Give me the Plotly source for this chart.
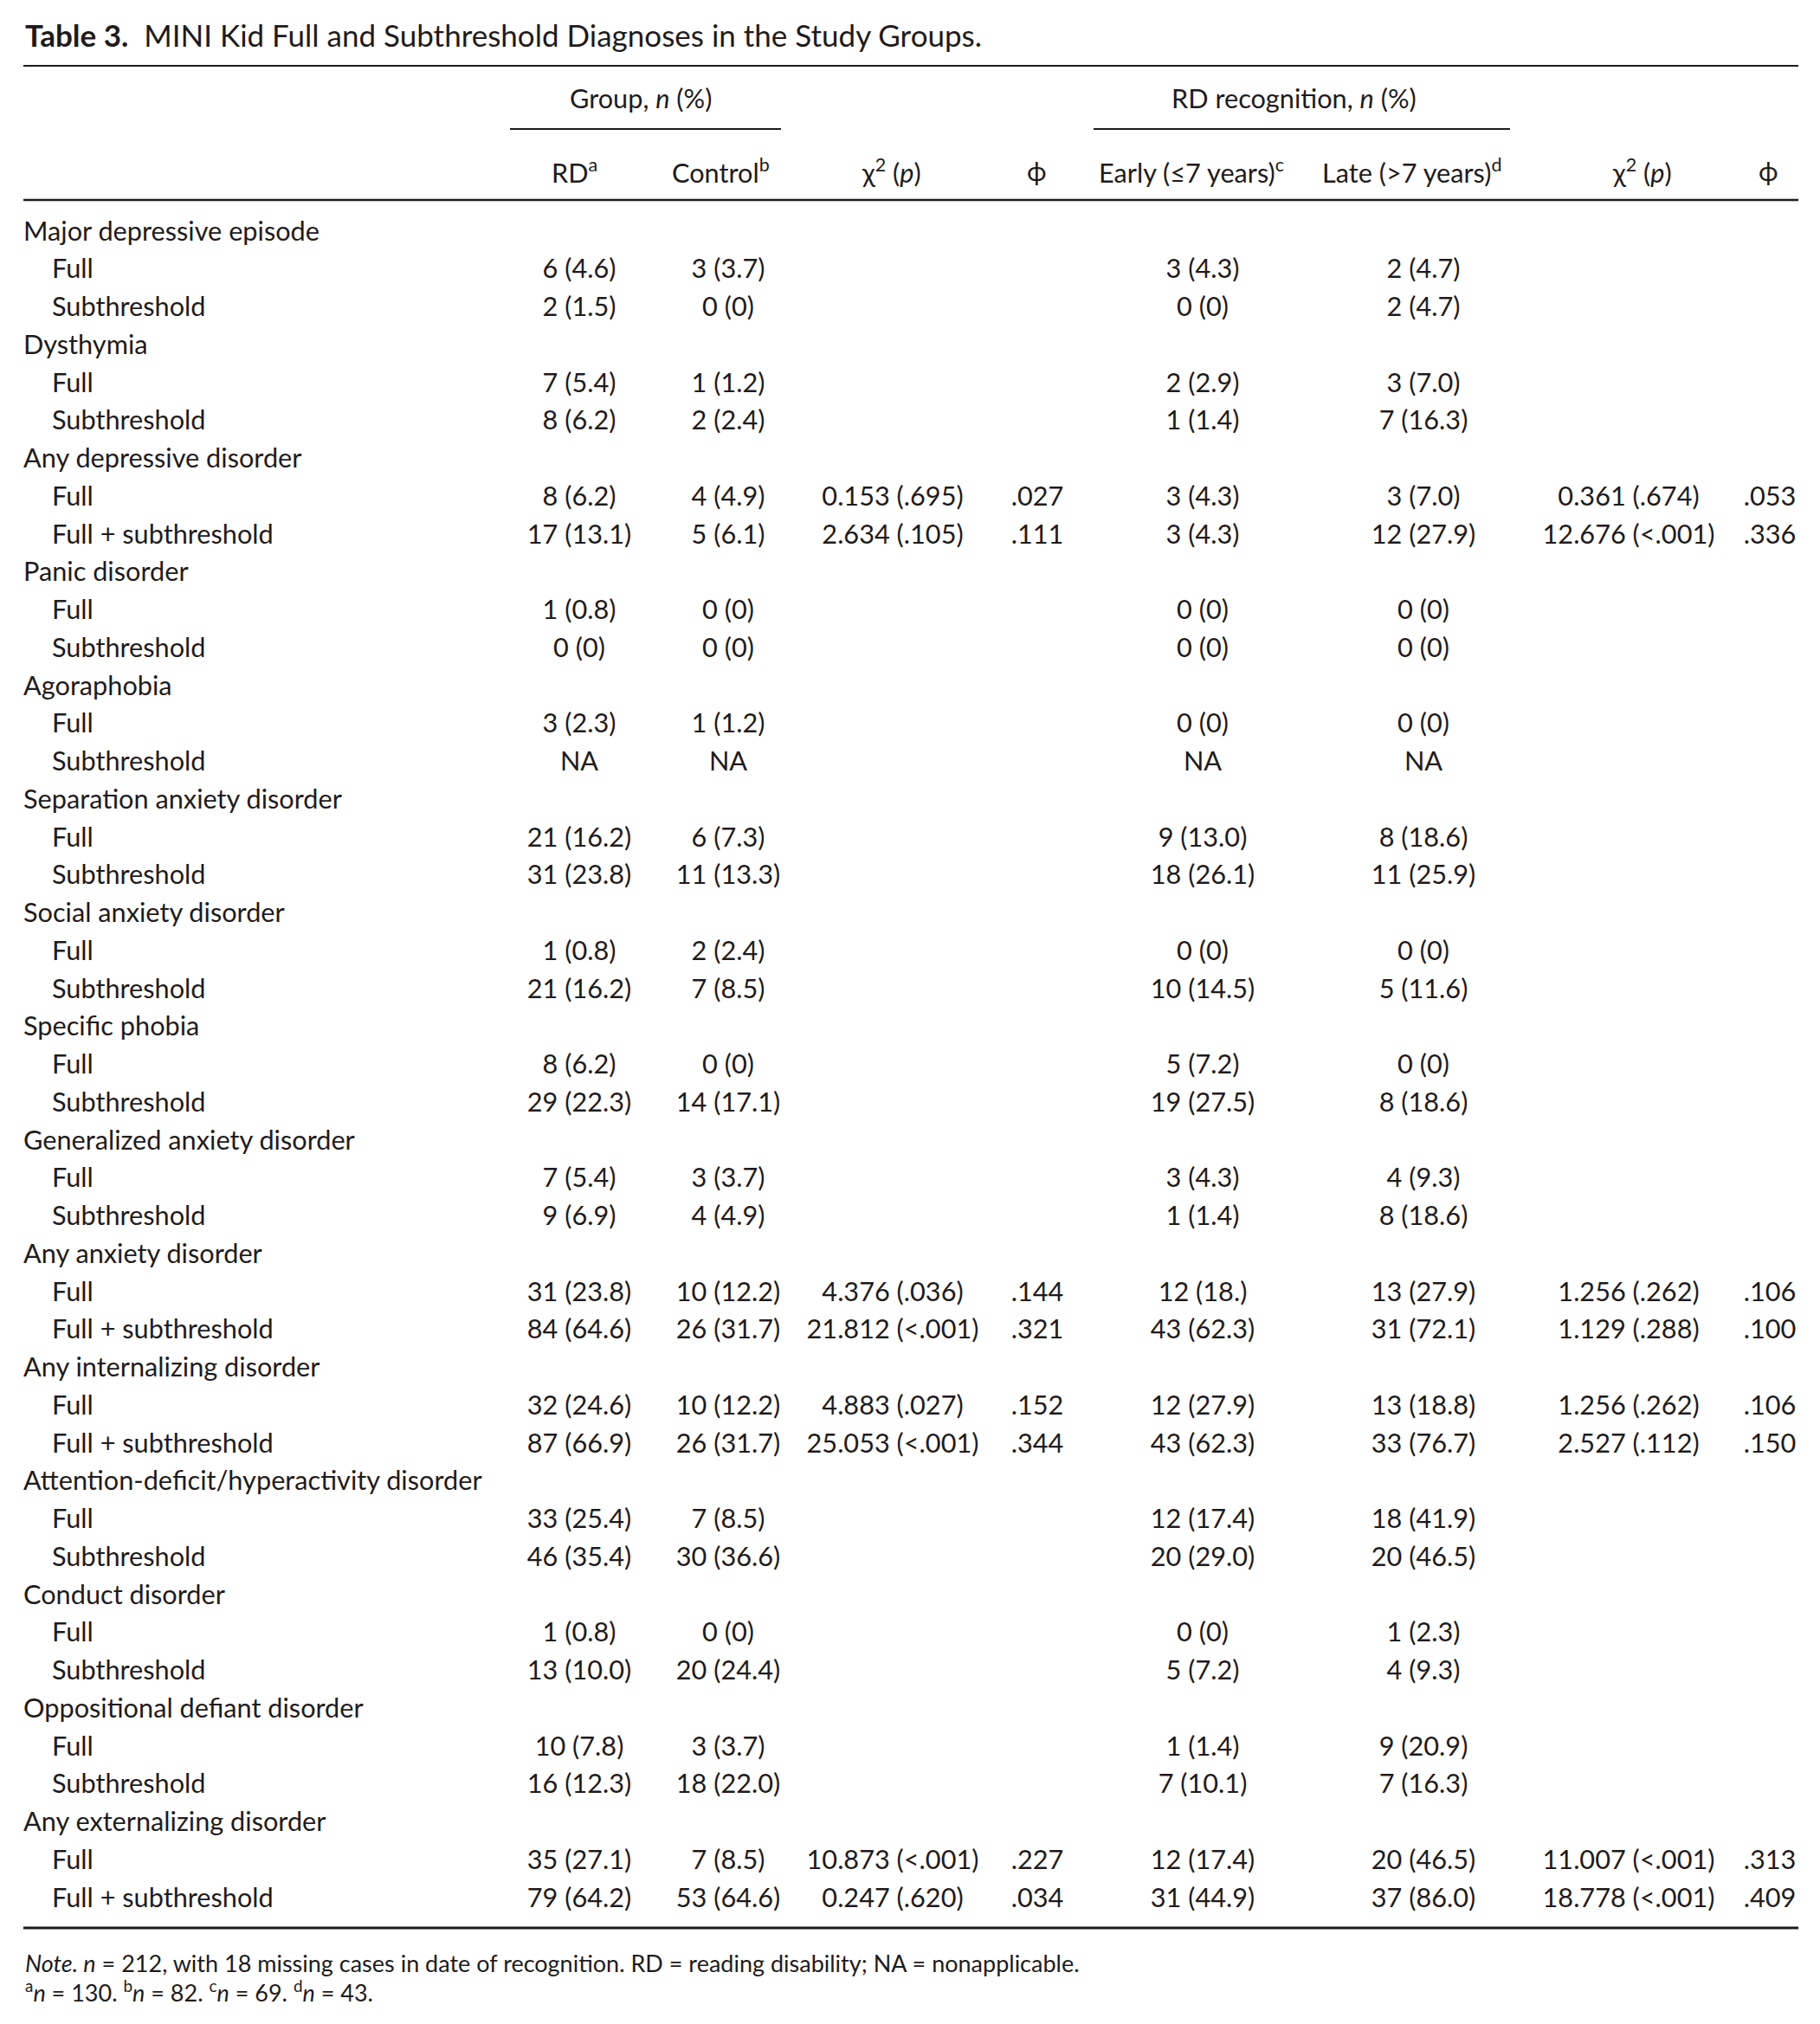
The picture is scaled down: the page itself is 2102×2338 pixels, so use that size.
import plotly.graph_objects as go

# table content
categories = ["Major depressive episode", "Dysthymia", "Any depressive disorder",
              "Panic disorder", "Agoraphobia", "Separation anxiety disorder",
              "Social anxiety disorder", "Specific phobia", "Generalized anxiety disorder",
              "Any anxiety disorder", "Any internalizing disorder",
              "Attention-deficit/hyperactivity disorder", "Conduct disorder",
              "Oppositional defiant disorder", "Any externalizing disorder"]

rd = ["6 (4.6)", "2 (1.5)", "7 (5.4)", "8 (6.2)", "8 (6.2)", "17 (13.1)", "1 (0.8)", "0 (0)",
      "3 (2.3)", "NA", "21 (16.2)", "31 (23.8)", "1 (0.8)", "21 (16.2)", "8 (6.2)", "29 (22.3)",
      "7 (5.4)", "9 (6.9)", "31 (23.8)", "84 (64.6)", "32 (24.6)", "87 (66.9)", "33 (25.4)",
      "46 (35.4)", "1 (0.8)", "13 (10.0)", "10 (7.8)", "16 (12.3)", "35 (27.1)", "79 (64.2)"]
control = ["3 (3.7)", "0 (0)", "1 (1.2)", "2 (2.4)", "4 (4.9)", "5 (6.1)", "0 (0)", "0 (0)",
           "1 (1.2)", "NA", "6 (7.3)", "11 (13.3)", "2 (2.4)", "7 (8.5)", "0 (0)", "14 (17.1)",
           "3 (3.7)", "4 (4.9)", "10 (12.2)", "26 (31.7)", "10 (12.2)", "26 (31.7)", "7 (8.5)",
           "30 (36.6)", "0 (0)", "20 (24.4)", "3 (3.7)", "18 (22.0)", "7 (8.5)", "53 (64.6)"]
early = ["3 (4.3)", "0 (0)", "2 (2.9)", "1 (1.4)", "3 (4.3)", "3 (4.3)", "0 (0)", "0 (0)",
         "0 (0)", "NA", "9 (13.0)", "18 (26.1)", "0 (0)", "10 (14.5)", "5 (7.2)", "19 (27.5)",
         "3 (4.3)", "1 (1.4)", "12 (18.)", "43 (62.3)", "12 (27.9)", "43 (62.3)", "12 (17.4)",
         "20 (29.0)", "0 (0)", "5 (7.2)", "1 (1.4)", "7 (10.1)", "12 (17.4)", "31 (44.9)"]
late = ["2 (4.7)", "2 (4.7)", "3 (7.0)", "7 (16.3)", "3 (7.0)", "12 (27.9)", "0 (0)", "0 (0)",
        "0 (0)", "NA", "8 (18.6)", "11 (25.9)", "0 (0)", "5 (11.6)", "0 (0)", "8 (18.6)",
        "4 (9.3)", "8 (18.6)", "13 (27.9)", "31 (72.1)", "13 (18.8)", "33 (76.7)", "18 (41.9)",
        "20 (46.5)", "1 (2.3)", "4 (9.3)", "9 (20.9)", "7 (16.3)", "20 (46.5)", "37 (86.0)"]

# statistics only exist for the "Any ..." categories (index into categories)
stat_cats = [2, 9, 10, 14]
chi_group = [["0.153 (.695)", "2.634 (.105)"], ["4.376 (.036)", "21.812 (<.001)"],
             ["4.883 (.027)", "25.053 (<.001)"], ["10.873 (<.001)", "0.247 (.620)"]]
phi_group = [[".027", ".111"], [".144", ".321"], [".152", ".344"], [".227", ".034"]]
chi_rec = [["0.361 (.674)", "12.676 (<.001)"], ["1.256 (.262)", "1.129 (.288)"],
           ["1.256 (.262)", "2.527 (.112)"], ["11.007 (<.001)", "18.778 (<.001)"]]
phi_rec = [[".053", ".336"], [".106", ".100"], [".106", ".150"], [".313", ".409"]]

col_headers = ["RD<sup>a</sup>", "Control<sup>b</sup>", "χ<sup>2</sup> (<i>p</i>)", "ϕ",
               "Early (≤7 years)<sup>c</sup>", "Late (>7 years)<sup>d</sup>",
               "χ<sup>2</sup> (<i>p</i>)", "ϕ"]

# layout constants (pixels)
W, H = 2102, 2338
FONT = "Lato"
INK = "#1f1b1c"
FS = 30.7
LEFT, RIGHT = 27, 2077
INDENT = 60
HEAD_X = [663, 832, 1029, 1197, 1376, 1630, 1896, 2042]   # column header centres
COL_X = [669, 841, 1031, 1198, 1389, 1644, 1881, 2044]    # value centres
ROW0, ROW_H = 270, 43.75

# build the row structure
labels, label_x, ys = [], [], []
cols = [([], []) for _ in range(8)]   # (y, text) per column
k = 0
row = 0
for ci, cat in enumerate(categories):
    labels.append(cat)
    label_x.append(LEFT)
    ys.append(ROW0 + ROW_H * row)
    row += 1
    subs = ["Full", "Full + subthreshold"] if cat.startswith("Any") else ["Full", "Subthreshold"]
    for si, sub in enumerate(subs):
        y = ROW0 + ROW_H * row
        labels.append(sub)
        label_x.append(INDENT)
        ys.append(y)
        vals = [rd[k], control[k], "", "", early[k], late[k], "", ""]
        if ci in stat_cats:
            j = stat_cats.index(ci)
            vals[2] = chi_group[j][si]
            vals[3] = phi_group[j][si]
            vals[6] = chi_rec[j][si]
            vals[7] = phi_rec[j][si]
        for (cy, ct), v in zip(cols, vals):
            if v:
                cy.append(y)
                ct.append(v)
        k += 1
        row += 1

fig = go.Figure()
fig.add_trace(go.Scatter(x=label_x, y=ys, text=labels, mode="text",
                         textposition="middle right",
                         textfont=dict(family=FONT, size=FS, color=INK)))
for cx, (cy, ct) in zip(COL_X, cols):
    fig.add_trace(go.Scatter(x=[cx] * len(cy), y=cy, text=ct, mode="text",
                             textposition="middle center",
                             textfont=dict(family=FONT, size=FS, color=INK)))

annotations = [
    dict(x=LEFT, y=40, text="<b>Table 3.</b>  MINI Kid Full and Subthreshold Diagnoses in the Study Groups.",
         xanchor="left", font=dict(size=35)),
    dict(x=740, y=113, text="Group, <i>n</i> (%)"),
    dict(x=1494, y=113, text="RD recognition, <i>n</i> (%)"),
    dict(x=LEFT, y=2267, text="<i>Note. n</i> = 212, with 18 missing cases in date of recognition. "
                              "RD = reading disability; NA = nonapplicable.",
         xanchor="left", font=dict(size=27)),
    dict(x=LEFT, y=2300, text="<sup>a</sup><i>n</i> = 130. <sup>b</sup><i>n</i> = 82. "
                              "<sup>c</sup><i>n</i> = 69. <sup>d</sup><i>n</i> = 43.",
         xanchor="left", font=dict(size=27)),
]
for cx, h in zip(HEAD_X, col_headers):
    annotations.append(dict(x=cx, y=197, text=h))
for a in annotations:
    a.update(xref="x", yref="y", showarrow=False, yanchor="middle")
    a.setdefault("xanchor", "center")
    f = dict(family=FONT, size=FS, color=INK)
    f.update(a.get("font", {}))
    a["font"] = f

shapes = [
    dict(x0=LEFT, x1=RIGHT, y0=76, y1=76, line=dict(width=2)),
    dict(x0=589, x1=902, y0=149, y1=149, line=dict(width=2)),
    dict(x0=1263, x1=1744, y0=149, y1=149, line=dict(width=2)),
    dict(x0=LEFT, x1=RIGHT, y0=231, y1=231, line=dict(width=2.5)),
    dict(x0=LEFT, x1=RIGHT, y0=2227, y1=2227, line=dict(width=3)),
]
for s in shapes:
    s.update(type="line", xref="x", yref="y")
    s["line"]["color"] = INK

fig.update_layout(
    width=W, height=H, margin=dict(l=0, r=0, t=0, b=0),
    paper_bgcolor="white", plot_bgcolor="white",
    showlegend=False, hovermode=False,
    xaxis=dict(range=[0, W], visible=False, fixedrange=True),
    yaxis=dict(range=[H, 0], visible=False, fixedrange=True),
    annotations=annotations, shapes=shapes,
)

fig.write_html("out.html", post_script="document.body.style.margin='0';",
               config={"displayModeBar": False})
